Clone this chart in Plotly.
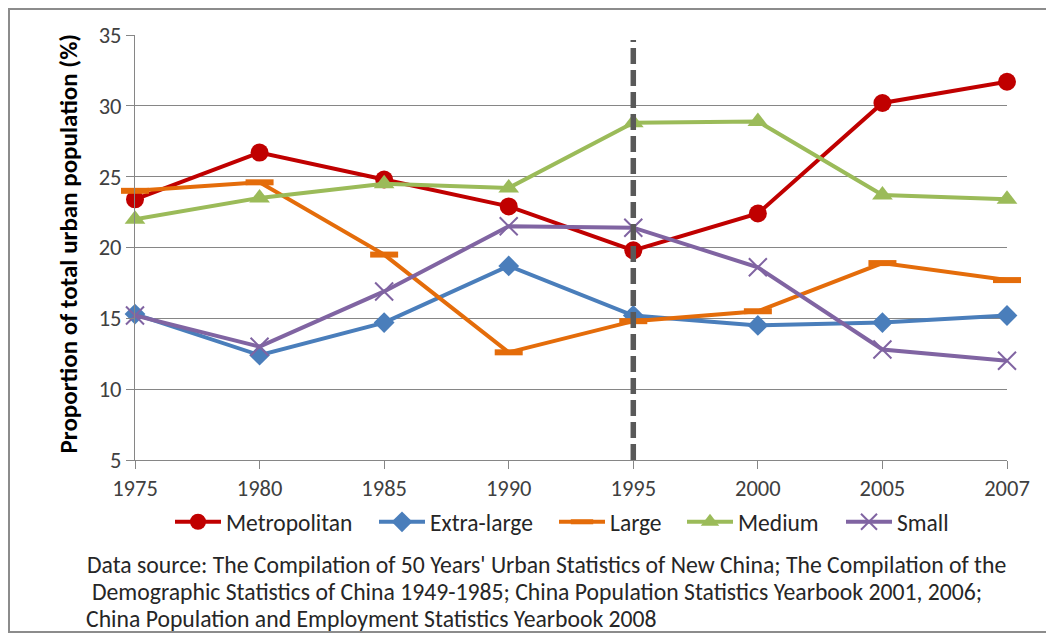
import plotly.graph_objects as go

years = ["1975", "1980", "1985", "1990", "1995", "2000", "2005", "2007"]
metropolitan = [23.4, 26.7, 24.8, 22.9, 19.8, 22.4, 30.2, 31.7]
extra_large = [15.3, 12.4, 14.7, 18.7, 15.2, 14.5, 14.7, 15.2]
large = [24.0, 24.6, 19.5, 12.6, 14.8, 15.5, 18.9, 17.7]
medium = [22.0, 23.5, 24.5, 24.2, 28.8, 28.9, 23.7, 23.4]
small = [15.2, 13.0, 16.9, 21.5, 21.4, 18.6, 12.8, 12.0]
divider_year = "1995"
y_title = "Proportion of total urban population (%)"
source_lines = [
    "Data source: The Compilation of 50 Years' Urban Statistics of New China; The Compilation of the",
    "Demographic Statistics of China 1949-1985; China Population Statistics Yearbook 2001, 2006;",
    "China Population and Employment Statistics Yearbook 2008",
]

FONT = "Calibri, Carlito, 'Open Sans', sans-serif"
idx = list(range(len(years)))

# page has an 8px body margin: work in figure coords = screen coords - 8
OFF = 8
W, H = 1054 - OFF, 634 - OFF
L, R, T, B = 135 - OFF, 1054 - 1007, 35 - OFF, 634 - 460
pw, ph = W - L - R, H - T - B


def px(x):
    return (x - OFF - L) / pw


def py(y):
    return (H - B - (y - OFF)) / ph


fig = go.Figure()

series = [
    ("Metropolitan", metropolitan, "#C00000", dict(symbol="circle", size=18)),
    ("Extra-large", extra_large, "#4A7EBB", dict(symbol="diamond", size=16)),
    ("Large", large, "#E46C0A", dict(symbol="line-ew", size=20, line=dict(width=6, color="#E46C0A"))),
    ("Medium", medium, "#9BBB59", dict(symbol="triangle-up", size=18)),
    ("Small", small, "#8064A2", dict(symbol="x-thin", size=18, line=dict(width=2, color="#8064A2"))),
]
legend_starts = [176, 380, 560, 688, 847]
legend_names = ["legend", "legend2", "legend3", "legend4", "legend5"]

for (name, vals, color, mk), lg in zip(series, legend_names):
    mk = dict(mk)
    mk.setdefault("color", color)
    fig.add_trace(go.Scatter(
        x=idx, y=vals, name=name, mode="lines+markers", legend=lg,
        line=dict(color=color, width=4), marker=mk, cliponaxis=False,
    ))

legend_layout = {}
for lg, xs in zip(legend_names, legend_starts):
    legend_layout[lg] = dict(
        orientation="h", x=px(xs - 6), y=py(522), xanchor="left", yanchor="middle",
        font=dict(family=FONT, size=23.5, color="#262626"), itemwidth=46,
        bgcolor="rgba(0,0,0,0)", borderwidth=0,
    )

# vertical dashed divider
dx = years.index(divider_year)
fig.add_shape(type="line", xref="x", yref="y", x0=dx, x1=dx, y0=5, y1=34.65,
              line=dict(color="#595959", width=5.5, dash="16px,6px"), layer="above")

# outer chart border
fig.add_shape(type="rect", xref="paper", yref="paper",
              x0=px(9), x1=px(1080), y0=py(632), y1=py(9),
              line=dict(color="#8C8C8C", width=2), layer="below")

# y-axis title
fig.add_annotation(xref="paper", yref="paper", x=px(68), y=py(243.5),
                   xanchor="center", yanchor="middle", textangle=-90, showarrow=False,
                   text="<b>" + y_title + "</b>",
                   font=dict(family=FONT, size=25, color="#000000"))

# source note
for i, (line, xl) in enumerate(zip(source_lines, [85, 90, 84])):
    fig.add_annotation(
        xref="paper", yref="paper", x=px(xl), y=py(564 + 27 * i),
        xanchor="left", yanchor="middle", align="left", showarrow=False,
        text=line, font=dict(family=FONT, size=23.7, color="#262626"),
    )

fig.update_layout(
    width=W, height=H,
    margin=dict(l=L, r=R, t=T, b=B),
    paper_bgcolor="white", plot_bgcolor="white",
    font=dict(family=FONT, color="#404040", size=22),
    showlegend=True,
    xaxis=dict(range=[0, 7], tickmode="array", tickvals=idx, ticktext=years,
               showgrid=False, zeroline=False, showline=True, linecolor="#868686", linewidth=1,
               ticks="outside", ticklen=8, tickcolor="#868686",
               tickfont=dict(size=22.5, color="#404040")),
    yaxis=dict(range=[5, 35], dtick=5, showgrid=True, gridcolor="#868686", gridwidth=1,
               zeroline=False, showline=True, linecolor="#868686", linewidth=1,
               ticks="outside", ticklen=8, tickcolor="#868686",
               tickfont=dict(size=22.5, color="#404040")),
    **legend_layout,
)

fig.write_html("out.html")
